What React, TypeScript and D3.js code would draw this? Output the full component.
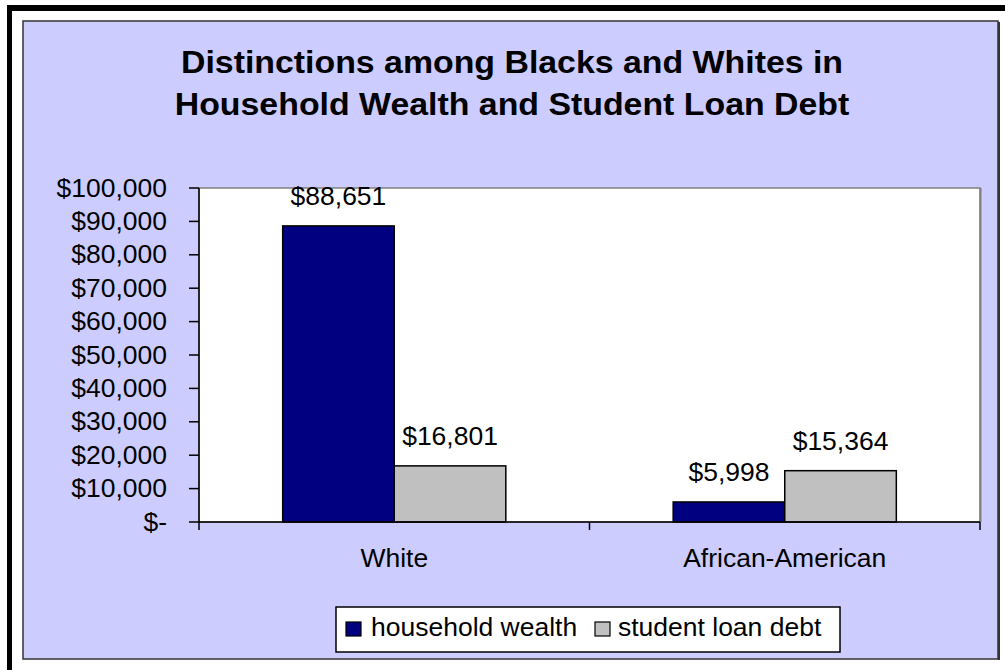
import React from "react";
import * as d3 from "d3";

const categories = ["White", "African-American"];
const seriesNames = ["household wealth", "student loan debt"];
const householdWealth = [88651, 5998];
const studentLoanDebt = [16801, 15364];
const yTicks = [0, 10000, 20000, 30000, 40000, 50000, 60000, 70000, 80000, 90000, 100000];
const titleLines = [
  "Distinctions among Blacks and Whites in",
  "Household Wealth and Student Loan Debt",
];

const colors = ["#000080", "#C0C0C0"];
const FONT = "'Liberation Sans', Arial, sans-serif";

function T({ x, y, text, size = 25, anchor = "middle", weight = "normal", sx = 1.06 }: any) {
  return (
    <text
      transform={`translate(${x},${y}) scale(${sx},1)`}
      fontFamily={FONT}
      fontSize={size}
      fontWeight={weight}
      textAnchor={anchor}
      fill="#000"
    >
      {text}
    </text>
  );
}

const fmtMoney = (v: number) => (v === 0 ? "$-" : "$" + d3.format(",")(v));

export default function App() {
  const W = 1005, H = 670;
  const plot = { left: 199, right: 980, top: 188, bottom: 522 };
  const x0 = d3.scaleBand().domain(categories).range([plot.left, plot.right]).paddingInner(0).paddingOuter(0);
  const bw = x0.bandwidth() / 3.5;
  const y = d3.scaleLinear().domain([0, 100000]).range([plot.bottom, plot.top]);
  const series = [householdWealth, studentLoanDebt];

  return (
    <svg width={W} height={H} style={{ position: "absolute", left: 0, top: 0 }}>
      <rect x={0} y={0} width={W} height={H} fill="#fff" />
      {/* outer black frame (top & left) */}
      <rect x={7} y={5} width={W - 7} height={6} fill="#000" />
      <rect x={7} y={5} width={5} height={H - 5} fill="#000" />
      {/* chart background */}
      <rect x={23} y={21} width={975} height={638} fill="#CCCCFF" stroke="#333" strokeWidth={1.5} />
      <line x1={999} y1={22} x2={999} y2={660} stroke="#333" strokeWidth={2} />

      {/* title */}
      {titleLines.map((t, i) => (
        <T key={i} x={512} y={73 + i * 42} text={t} size={30.5} weight="bold" sx={1.11} />
      ))}

      {/* plot area */}
      <rect x={plot.left} y={plot.top} width={plot.right - plot.left} height={plot.bottom - plot.top} fill="#fff" stroke="#808080" strokeWidth={1.5} />
      <line x1={plot.right + 0.5} y1={plot.top} x2={plot.right + 0.5} y2={plot.bottom} stroke="#808080" strokeWidth={2} />

      {/* bars */}
      {categories.map((c, ci) => {
        const gx = (x0(c) as number) + x0.bandwidth() / 2 - bw;
        return series.map((s, si) => {
          const v = s[ci];
          const bx = gx + si * bw;
          const by = y(v);
          return (
            <g key={c + si}>
              <rect x={bx} y={by} width={bw} height={y(0) - by} fill={colors[si]} stroke="#000" strokeWidth={1.5} />
              <T x={bx + bw / 2} y={by - 21} text={fmtMoney(v)} />
            </g>
          );
        });
      })}

      {/* y axis */}
      <line x1={plot.left} y1={plot.top} x2={plot.left} y2={plot.bottom} stroke="#000" strokeWidth={1.5} />
      {yTicks.map((t) => (
        <g key={t}>
          <line x1={plot.left - 10} y1={y(t)} x2={plot.left} y2={y(t)} stroke="#000" strokeWidth={1.5} />
          <T x={167} y={y(t) + 8.5} text={fmtMoney(t)} anchor="end" />
        </g>
      ))}

      {/* x axis */}
      <line x1={plot.left} y1={plot.bottom} x2={plot.right} y2={plot.bottom} stroke="#000" strokeWidth={1.5} />
      {[plot.left, ...categories.slice(1).map((c) => x0(c) as number), plot.right].map((tx, i) => (
        <line key={i} x1={tx} y1={plot.bottom} x2={tx} y2={plot.bottom + 8} stroke="#000" strokeWidth={1.5} />
      ))}
      {categories.map((c) => (
        <T key={c} x={(x0(c) as number) + x0.bandwidth() / 2} y={567} text={c} />
      ))}

      {/* legend */}
      <rect x={336} y={607} width={504} height={45} fill="#fff" stroke="#000" strokeWidth={1.5} />
      <rect x={346} y={622} width={15} height={14} fill={colors[0]} stroke="#000" strokeWidth={1.2} />
      <T x={371} y={636} text={seriesNames[0]} anchor="start" />
      <rect x={595} y={622} width={15} height={14} fill={colors[1]} stroke="#000" strokeWidth={1.2} />
      <T x={618} y={636} text={seriesNames[1]} anchor="start" />
    </svg>
  );
}
